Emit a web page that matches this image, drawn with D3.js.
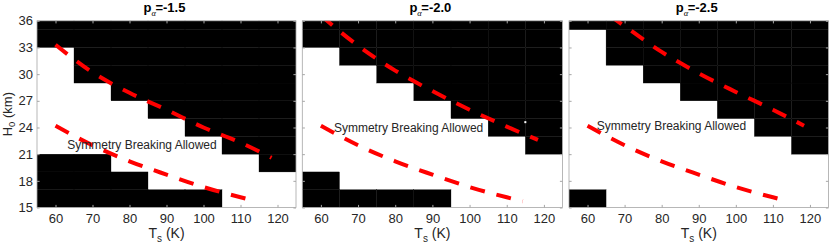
<!DOCTYPE html>
<html><head><meta charset="utf-8">
<script src="https://cdn.jsdelivr.net/npm/d3@7"></script>
<style>
body{margin:0;background:#fff;}
text{font-family:"Liberation Sans",Arial,Helvetica,sans-serif;}
</style></head>
<body><svg id="c" width="830" height="247"></svg>
<script>
// ---- data ----
const T_vals = [60, 70, 80, 90, 100, 110, 120];          // cell centres (K)
const H_vals = [16, 18, 20, 22, 24, 26, 28, 30, 32, 34, 36]; // cell centres (km)
const xTicks = [60, 70, 80, 90, 100, 110, 120];
const yTicks = [15, 18, 21, 24, 27, 30, 33, 36];
const titles = ["-1.5", "-2.0", "-2.5"];
// 1 = black (no symmetry breaking), rows follow H_vals (bottom to top), columns follow T_vals
const grid15 = [
  [1,1,1,1,1,0,0],
  [1,1,1,0,0,0,0],
  [1,1,0,0,0,0,1],
  [0,0,0,0,0,1,1],
  [0,0,0,0,1,1,1],
  [0,0,0,1,1,1,1],
  [0,0,1,1,1,1,1],
  [0,1,1,1,1,1,1],
  [0,1,1,1,1,1,1],
  [1,1,1,1,1,1,1],
  [1,1,1,1,1,1,1]];
const grid20 = [
  [1,1,1,1,0,0,0],
  [1,0,0,0,0,0,0],
  [0,0,0,0,0,0,0],
  [0,0,0,0,0,0,1],
  [0,0,0,0,0,1,1],
  [0,0,0,0,1,1,1],
  [0,0,0,1,1,1,1],
  [0,0,1,1,1,1,1],
  [0,1,1,1,1,1,1],
  [1,1,1,1,1,1,1],
  [1,1,1,1,1,1,1]];
const grid25 = [
  [1,0,0,0,0,0,0],
  [0,0,0,0,0,0,0],
  [0,0,0,0,0,0,0],
  [0,0,0,0,0,0,1],
  [0,0,0,0,0,1,1],
  [0,0,0,0,1,1,1],
  [0,0,0,1,1,1,1],
  [0,0,1,1,1,1,1],
  [0,1,1,1,1,1,1],
  [0,1,1,1,1,1,1],
  [1,1,1,1,1,1,1]];
const grids = [grid15, grid20, grid25];
// dashed red curves
const curveT = [60, 70, 80, 90, 100, 110, 118.4];
const upper15 = [33.3, 30.2, 27.9, 26.0, 24.0, 22.3, 20.6];
const upper20 = [36.6, 33.2, 30.4, 28.1, 26.0, 24.1, 22.6];
const upper25 = [38.4, 35.4, 32.5, 30.1, 28.0, 26.0, 24.2];
const uppers = [upper15, upper20, upper25];
const lowerT = [60, 70, 80, 90, 100, 110, 114.3];
const lowerH = [24.2, 22.0, 20.2, 18.7, 17.3, 16.15, 15.7];
const labelText = "Symmetry Breaking Allowed";
const labelPos = [[63.2, 22.1], [63.5, 24.0], [62.5, 24.2]];
const dotPoint = [115, 24.6]; // small white marker in middle panel

// ---- layout ----
const svg = d3.select("#c");
const panels = [[37, 296], [302.3, 562.5], [569, 828.5]];
const yTop = 20.8, yBot = 207.5;
const axisCol = "#a6a6a6", txtCol = "#262626";

panels.forEach((px, pi) => {
  const x = d3.scaleLinear().domain([55, 125]).range(px);
  const y = d3.scaleLinear().domain([15, 36]).range([yBot, yTop]);
  const g = svg.append("g");
  const cid = "clip" + pi;
  svg.append("defs").append("clipPath").attr("id", cid)
    .append("rect").attr("x", px[0]).attr("y", yTop).attr("width", px[1]-px[0]).attr("height", yBot-yTop);

  g.append("rect").attr("x", px[0]).attr("y", yTop).attr("width", px[1]-px[0]).attr("height", yBot-yTop).attr("fill", "#fff");

  const cells = [];
  grids[pi].forEach((row, i) => row.forEach((v, j) => { if (v) cells.push({T: T_vals[j], H: H_vals[i]}); }));
  g.append("g").attr("clip-path", `url(#${cid})`).selectAll("rect").data(cells).join("rect")
    .attr("x", d => x(d.T - 5)).attr("width", d => x(d.T + 5) - x(d.T - 5))
    .attr("y", d => y(Math.min(d.H + 1, 36))).attr("height", d => y(Math.max(d.H - 1, 15)) - y(Math.min(d.H + 1, 36)))
    .attr("fill", "#000").attr("stroke", "#000").attr("stroke-width", 0.3);

  if (pi === 1) {
    g.append("rect").attr("x", x(dotPoint[0]) - 1).attr("y", y(dotPoint[1]) - 1).attr("width", 2).attr("height", 2).attr("fill", "#fff");
  }

  const line = d3.line().x(d => x(d[0])).y(d => y(d[1])).curve(d3.curveMonotoneX);
  const lg = g.append("g").attr("clip-path", `url(#${cid})`);
  lg.append("path").attr("d", line(curveT.map((t, k) => [t, uppers[pi][k]])))
    .attr("fill", "none").attr("stroke", "#ff0000").attr("stroke-width", 4).attr("stroke-dasharray", "15,12");
  lg.append("path").attr("d", line(lowerT.map((t, k) => [t, lowerH[k]])))
    .attr("fill", "none").attr("stroke", "#ff0000").attr("stroke-width", 4).attr("stroke-dasharray", "15,12");

  g.append("text").attr("x", x(labelPos[pi][0])).attr("y", y(labelPos[pi][1]))
    .attr("dy", "0.35em").attr("font-size", 12).attr("fill", txtCol).text(labelText);

  // axes
  const styleAx = sel => { sel.select(".domain").remove(); sel.selectAll("line").attr("stroke", axisCol); sel.selectAll("text").attr("fill", txtCol).attr("font-size", 13).attr("font-family", "Liberation Sans, Arial, sans-serif"); };
  g.append("g").attr("transform", `translate(0,${yBot})`)
    .call(d3.axisBottom(x).tickValues(xTicks).tickSize(-2.6).tickPadding(6)).call(styleAx);
  g.append("g").attr("transform", `translate(0,${yTop})`)
    .call(d3.axisTop(x).tickValues(xTicks).tickSize(-2.6).tickFormat("")).call(styleAx);
  g.append("g").attr("transform", `translate(${px[0]},0)`)
    .call(d3.axisLeft(y).tickValues(yTicks).tickSize(-2.6).tickPadding(4).tickFormat(pi === 0 ? d3.format("d") : "")).call(styleAx);
  g.append("g").attr("transform", `translate(${px[1]},0)`)
    .call(d3.axisRight(y).tickValues(yTicks).tickSize(-2.6).tickFormat("")).call(styleAx);
  g.append("rect").attr("x", px[0]).attr("y", yTop).attr("width", px[1]-px[0]).attr("height", yBot-yTop)
    .attr("fill", "none").attr("stroke", axisCol).attr("stroke-width", 0.8);

  // title
  const cx = (px[0] + px[1]) / 2;
  const t = g.append("text").attr("x", cx - 23).attr("y", 12).attr("font-size", 13).attr("font-weight", "bold").attr("fill", "#000");
  t.append("tspan").text("p");
  t.append("tspan").attr("dy", 4).attr("font-size", 8.5).attr("font-weight", "normal").attr("font-style", "italic").attr("font-family", "Liberation Serif, serif").text("α");
  t.append("tspan").attr("dy", -4).attr("dx", -0.5).text("=" + titles[pi]);

  // x label
  const xl = g.append("text").attr("x", cx).attr("y", 238).attr("text-anchor", "middle").attr("font-size", 14).attr("fill", txtCol);
  xl.append("tspan").text("T");
  xl.append("tspan").attr("dy", 4).attr("font-size", 10).text("s");
  xl.append("tspan").attr("dy", -4).text(" (K)");
});

// y label
const yl = svg.append("text").attr("transform", `translate(11.5,${(yTop + yBot) / 2}) rotate(-90)`)
  .attr("text-anchor", "middle").attr("font-size", 13).attr("fill", txtCol);
yl.append("tspan").text("H");
yl.append("tspan").attr("dy", 3.5).attr("font-size", 9.5).text("0");
yl.append("tspan").attr("dy", -3.5).text(" (km)");
</script></body></html>
